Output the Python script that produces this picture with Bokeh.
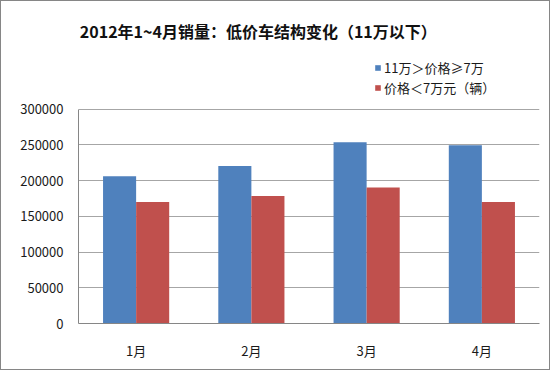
from bokeh.plotting import figure
from bokeh.models import ColumnDataSource, FactorRange, Legend, LegendItem, Label, FixedTicker, NumeralTickFormatter, Range1d
from bokeh.transform import dodge
from bokeh.embed import file_html
from bokeh.resources import INLINE

months = ["1月", "2月", "3月", "4月"]
series_names = ["11万＞价格≥7万", "价格＜7万元（辆）"]
mid_price = [206000, 220500, 253800, 249500]
low_price = [170000, 178500, 190400, 170000]
y_ticks = [0, 50000, 100000, 150000, 200000, 250000, 300000]
title_text = "2012年1~4月销量：低价车结构变化（11万以下）"

src = ColumnDataSource(dict(month=months, mid=mid_price, low=low_price))

FONT = "Noto Sans CJK SC"

W, H = 550, 370
top_b, bot_b = 4, 48
frame_h = (H - 2) - top_b - bot_b    # inner height after 1px border
axis_h = 213                          # px spanned by 0..300000
y_end = 300000 * frame_h / axis_h

p = figure(width=W, height=H, output_backend="svg", toolbar_location=None,
           x_range=FactorRange(*months), y_range=Range1d(0, y_end),
           min_border_left=77, min_border_right=12, min_border_top=top_b, min_border_bottom=bot_b)
p.outline_line_color = None
p.background_fill_color = "white"
p.border_fill_color = "white"
p.x_range.range_padding = 0
p.styles = {"border": "1px solid #868686", "box-sizing": "border-box"}

bw = 0.287
r1 = p.vbar(x=dodge("month", -bw / 2, range=p.x_range), top="mid", width=bw, source=src,
            fill_color="#4F81BD", line_color=None)
r2 = p.vbar(x=dodge("month", bw / 2, range=p.x_range), top="low", width=bw, source=src,
            fill_color="#C0504D", line_color=None)

p.xgrid.grid_line_color = None
p.ygrid.grid_line_color = "#A6A6A6"
p.ygrid.grid_line_width = 1

p.yaxis.ticker = FixedTicker(ticks=y_ticks)
p.yaxis.bounds = (0, 300000)
p.yaxis.formatter = NumeralTickFormatter(format="0")
for ax in (p.xaxis[0], p.yaxis[0]):
    ax.axis_line_color = "#868686"
    ax.major_tick_line_color = None
    ax.minor_tick_line_color = None
    ax.major_label_text_font = FONT
    ax.major_label_text_font_size = "13px"
    ax.major_label_text_color = "#1a1a1a"
p.yaxis.major_label_standoff = 9
p.xaxis.major_label_standoff = 11

legend = Legend(items=[LegendItem(label=series_names[0], renderers=[r1]),
                       LegendItem(label=series_names[1], renderers=[r2])],
                location=(296, 226), orientation="vertical",
                label_text_font=FONT, label_text_font_size="13px", label_text_color="#1a1a1a",
                glyph_width=7, glyph_height=7, label_standoff=3, spacing=1, label_height=19,
                padding=2, margin=0, border_line_color=None, background_fill_alpha=0)
p.add_layout(legend, "center")

title = Label(x=1.56, y=300000 * (321 - 30) / axis_h, text=title_text,
              text_align="center", text_baseline="middle",
              text_font=FONT, text_font_size="16px", text_font_style="bold", text_color="#111111")
p.add_layout(title)

open("out.html", "w").write(file_html(p, INLINE))
